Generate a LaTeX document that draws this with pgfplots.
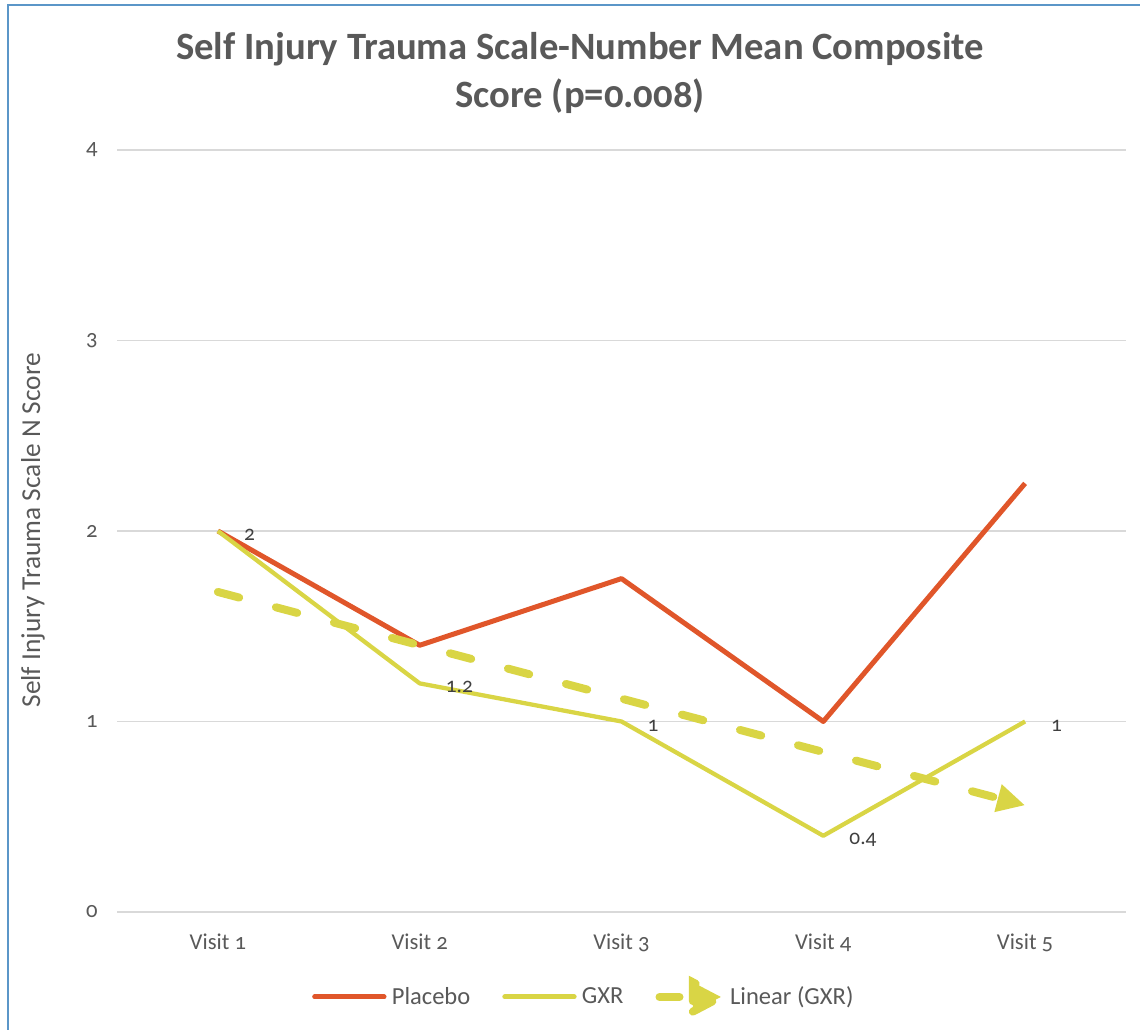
\documentclass[border=0pt]{standalone}
\usepackage{pgfplots}
\pgfplotsset{compat=1.18}
\usetikzlibrary{arrows.meta}
\usepackage{fontspec}
\setmainfont{Carlito}[Numbers=OldStyle]
\definecolor{placebo}{HTML}{E0562A}
\definecolor{gxr}{HTML}{D9D545}
\definecolor{txt}{HTML}{595959}
\definecolor{gridc}{HTML}{D9D9D9}
\definecolor{framec}{HTML}{5B96C8}
\begin{document}
\begin{tikzpicture}
\path[use as bounding box] (0,0) rectangle (855pt,772.5pt);
\draw[framec, line width=2pt] (6pt,0pt) -- (6pt,768.75pt) -- (855pt,768.75pt);
\begin{axis}[
  at={(87.75pt,88.5pt)}, anchor=south west,
  scale only axis, width=756.75pt, height=571.5pt,
  xmin=-0.5, xmax=4.5, ymin=0, ymax=4,
  xtick={0,1,2,3,4},
  xticklabels={Visit 1,Visit 2,Visit 3,Visit 4,Visit 5},
  ytick={0,1,2,3,4},
  /pgf/number format/assume math mode=true,
  xmajorgrids=false, ymajorgrids=true,
  major grid style={gridc, line width=1pt},
  axis line style={draw=none},
  tick style={draw=none},
  major tick length=0pt,
  tick label style={font=\fontsize{17}{20}\selectfont, text=txt},
  xticklabel style={yshift=-13pt},
  yticklabel style={xshift=-11pt},
  title={Self Injury Trauma Scale-Number Mean Composite\\Score (p=0.008)},
  title style={at={(0.459,1.090)}, anchor=center, align=center,
    font=\fontsize{29}{36}\selectfont\bfseries, text=txt},
  ylabel={Self Injury Trauma Scale N Score},
  ylabel style={at={(-0.0833,0.501)}, anchor=center, rotate=0,
    font=\fontsize{20.5}{24}\selectfont, text=txt},
  legend columns=3,
  legend style={at={(0.463,-0.1115)}, anchor=center, draw=none,
    font=\fontsize{18.4}{22}\selectfont, text=txt,
    /tikz/every odd column/.append style={column sep=2pt},
    /tikz/every even column/.append style={column sep=22pt}},
  clip=false,
]
\addplot[placebo, line width=3.75pt, line join=round,
  legend image code/.code={\draw[-, placebo, line width=3.75pt, line cap=round] (0pt,0pt) -- (52pt,0pt);}]
  coordinates {(0,2) (1,1.4) (2,1.75) (3,1) (4,2.25)};
\addlegendentry{Placebo}
\addplot[gxr, line width=3.2pt, line join=round,
  nodes near coords, point meta=explicit symbolic,
  nodes near coords style={anchor=west, inner sep=0pt, xshift=18pt, yshift=-3pt,
    font=\fontsize{16}{19}\selectfont, text=black!75},
  legend image code/.code={\draw[-, gxr, line width=3.75pt, line cap=round] (0pt,0pt) -- (52pt,0pt);}]
  coordinates {(0,2)[2] (1,1.2)[1.2] (2,1)[1] (3,0.4)[0.4] (4,1)[1]};
\addlegendentry{GXR}
\addplot[gxr, line width=6pt, line cap=round,
  dash pattern=on 16.5pt off 28.5pt,
  -{Triangle[length=21pt, width=20pt]},
  legend image code/.code={
    \draw[-, solid, gxr, line width=6pt, line cap=round] (3pt,0pt) -- (18pt,0pt);
    \fill[gxr] (28pt,-11pt) -- (49pt,0pt) -- (28pt,11pt) -- cycle;}]
  coordinates {(0,1.68) (4,0.56)};
\addlegendentry{Linear (GXR)}
\end{axis}
\end{tikzpicture}
\end{document}
